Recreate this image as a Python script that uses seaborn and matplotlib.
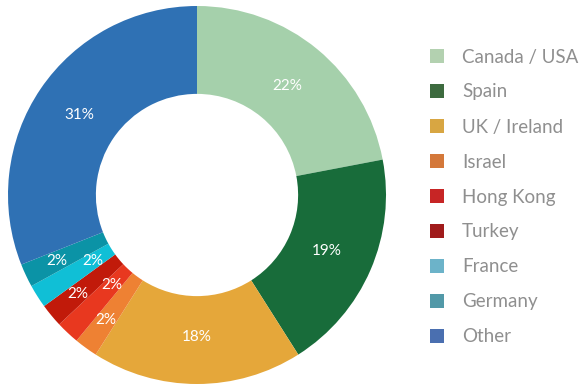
import matplotlib
matplotlib.use("Agg")
import numpy as np
import matplotlib.pyplot as plt
from matplotlib.lines import Line2D
import seaborn as sns

categories = ["Canada / USA", "Spain", "UK / Ireland", "Israel", "Hong Kong",
              "Turkey", "France", "Germany", "Other"]
values = [22, 19, 18, 2, 2, 2, 2, 2, 31]
slice_colors = ["#a5d0ab", "#186c3a", "#e5a73a", "#ee8133", "#e8381f",
                "#c11a0a", "#10bfd6", "#0b93a6", "#2f71b4"]
legend_colors = ["#b3d1b0", "#3d6b3f", "#d8a642", "#d4783a", "#c72525",
                 "#a01b1b", "#6cb3c9", "#5299a8", "#4a6fb0"]

sns.set_theme(style="white")
plt.rcParams["font.family"] = ["Lato", "DejaVu Sans"]

fig = plt.figure(figsize=(5.85, 3.84), dpi=100)
cx, cy, r = 197, 195, 189
ax = fig.add_axes([(cx - r) / 585, (384 - cy - r) / 384, 2 * r / 585, 2 * r / 384])
wedges, texts, autotexts = ax.pie(
    values, colors=sns.color_palette(slice_colors), startangle=90, counterclock=False,
    radius=1.0, wedgeprops=dict(width=0.465, linewidth=0),
    autopct=lambda p: f"{p:.0f}%", pctdistance=0.75,
    textprops=dict(color="white", fontsize=11))
# small slices: labels alternate between outer and inner radius
small_idx = [i for i, v in enumerate(values) if v < 5]
for k, i in enumerate(small_idx):
    w = wedges[i]
    ang = np.deg2rad((w.theta1 + w.theta2) / 2)
    rad = 0.82 if k % 2 == 0 else 0.655
    autotexts[i].set_position((rad * np.cos(ang), rad * np.sin(ang)))
ax.set_xlim(-1, 1)
ax.set_ylim(-1, 1)
ax.set_aspect("equal")
ax.axis("off")

handles = [Line2D([0], [0], marker="s", linestyle="none", markersize=10,
                  markerfacecolor=c, markeredgewidth=0) for c in legend_colors]
leg = fig.legend(handles, categories, loc="upper left",
                 bbox_to_anchor=(420 / 585, 1 - 41 / 384), frameon=False,
                 fontsize=13.5, labelspacing=0.96, handletextpad=0.85,
                 handlelength=1.0, borderaxespad=0)
for t in leg.get_texts():
    t.set_color("#8f8f8f")

fig.savefig("out.png", dpi=100)
